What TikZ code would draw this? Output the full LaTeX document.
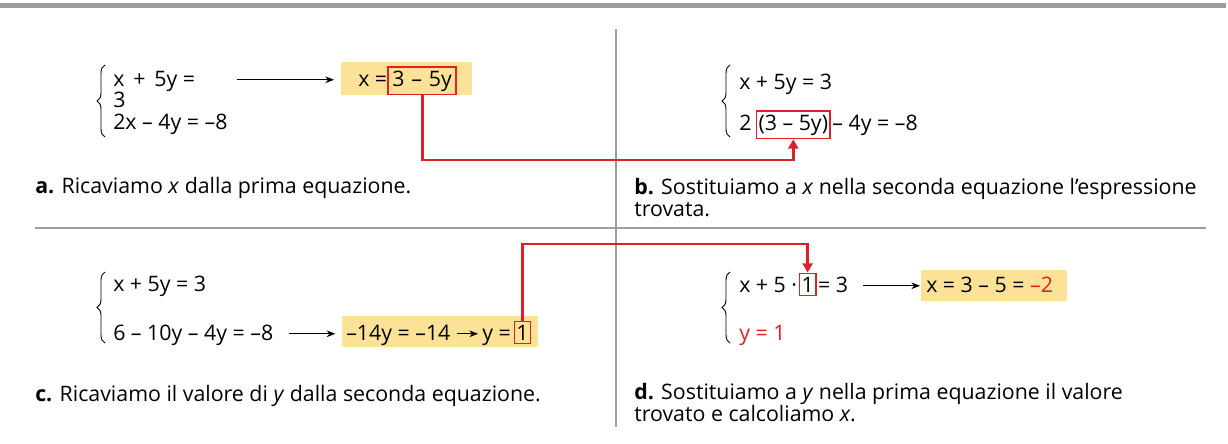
\documentclass[tikz,border=0pt]{standalone}
\usepackage{fontspec}
\setmainfont{Open Sans}
\usetikzlibrary{arrows.meta,decorations.pathreplacing,backgrounds}

\definecolor{rosso}{RGB}{222,32,40}
\definecolor{giallo}{RGB}{252,226,150}
\definecolor{grigio}{RGB}{155,157,160}

\tikzset{
  eq/.style={inner sep=0pt, anchor=base west, font=\fontsize{16}{18}\selectfont},
  didasc/.style={inner sep=0pt, anchor=base west, align=left, font=\fontsize{16}{16.5}\selectfont},
  cornice/.style={draw=rosso, line width=1.2pt, inner xsep=1.5pt, inner ysep=2.5pt},
  freccia/.style={-{Stealth[length=6.5pt,width=5pt]}, line width=0.6pt},
  collega/.style={rosso, line width=2.2pt, -{Triangle[length=7pt,width=7.5pt]}},
  graffa/.style={decorate, decoration={brace, amplitude=6pt}, line width=0.7pt},
  divisore/.style={grigio, line width=1.5pt}
}

\begin{document}
\begin{tikzpicture}[x=0.75pt,y=-0.75pt]
  \useasboundingbox (0,0) rectangle (1228,443);

  % cornici e divisori
  \draw[grigio, line width=3.8pt] (0,5.5) -- (1226,5.5);
  \draw[divisore] (616,29) -- (616,427);
  \draw[divisore] (35,228) -- (1206,228);

  % evidenziazioni
  \fill[giallo] (341,62) rectangle (472,95);
  \fill[giallo] (342,316) rectangle (538,347);
  \fill[giallo] (921,270) rectangle (1067,301);

  % a
  \draw[graffa] (105,137) -- (105,65);
  \node[eq] (a1) at (113,86) {x\kern2.5pt{} + \kern2.5pt5y =};
  \node[eq] (a2) at (113,107) {3};
  \node[eq] (a3) at (113,129) {2x – 4y = –8};
  \node[eq] (ax) at (358,86) {x =};
  \node[eq, cornice, anchor=base west, inner xsep=3pt] (sub) at (ax.base east) {3\kern1pt{} – \kern1pt5y};
  \draw[freccia, shorten <=31pt, shorten >=18pt] ([yshift=2pt]a1.mid east) -- ([yshift=2pt]a1.mid east -| ax.west);
  \node[didasc] (capa) at (35,193) {\textbf{a.} Ricaviamo \textit{x} dalla prima equazione.};

  % b
  \draw[graffa] (730,137) -- (730,65);
  \node[eq] (b1) at (739,89) {x + 5y = 3};
  \node[eq] (b2) at (739,130) {2};
  \node[eq, cornice, anchor=base west] (par) at ([xshift=3pt]b2.base east) {(3 – 5y)};
  \node[eq] (b3) at ([xshift=1pt]par.base east) {– 4y = –8};
  \node[didasc] (capb) at (634,216) {\textbf{b.} Sostituiamo a \textit{x} nella seconda equazione l’espressione\\trovata.};

  % c
  \draw[graffa] (105,343) -- (105,272);
  \node[eq] (c1) at (113,291) {x + 5y = 3};
  \node[eq] (c2) at (113,340) {6 – 10y – 4y = –8};
  \node[eq] (c3) at (346,340) {–14y = –14};
  \node[eq] (c4) at (482,340) {y =};
  \node[eq, cornice, anchor=base west] (one) at ([xshift=2pt]c4.base east) {1};
  \draw[freccia, shorten <=12pt, shorten >=8pt] ([yshift=2pt]c2.mid east) -- ([yshift=2pt]c2.mid east -| c3.west);
  \draw[freccia, shorten <=5pt, shorten >=3pt] ([yshift=2pt]c3.mid east) -- ([yshift=2pt]c3.mid east -| c4.west);
  \node[didasc] (capc) at (35,401) {\textbf{c.} Ricaviamo il valore di \textit{y} dalla seconda equazione.};

  % d
  \draw[graffa] (730,343) -- (730,272);
  \node[eq] (d1) at (739,292) {x + 5 · };
  \node[eq, cornice, anchor=base west] (oned) at ([xshift=1pt]d1.base east) {1};
  \node[eq] (d2) at ([xshift=1pt]oned.base east) {= 3};
  \node[eq] (d3) at (926,292) {x = 3 – 5 = \textcolor{rosso}{–2}};
  \node[eq, text=rosso] (d4) at (739,340) {y = 1};
  \draw[freccia, shorten <=11pt, shorten >=4.5pt] ([yshift=2pt]d2.mid east) -- ([yshift=2pt]d2.mid east -| d3.west);
  \node[didasc] (capd) at (634,421) {\textbf{d.} Sostituiamo a \textit{y} nella prima equazione il valore\\trovato e calcoliamo \textit{x}.};

  % sostituzioni
  \draw[collega] (sub.south) -- (sub.south |- 0,160) -| (par.south);
  \draw[collega] (one.north) -- (one.north |- 0,244) -| (oned.north);
\end{tikzpicture}
\end{document}
